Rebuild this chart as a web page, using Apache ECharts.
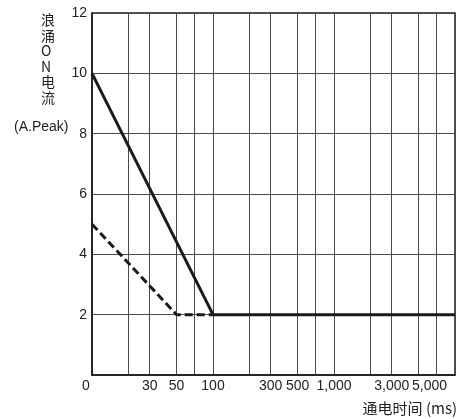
<!DOCTYPE html>
<html>
<head>
<meta charset="utf-8">
<script src="https://cdn.jsdelivr.net/npm/echarts@6/dist/echarts.min.js"></script>
<style>html,body{margin:0;padding:0;background:#fff;}#c{width:459px;height:419px;}</style>
</head>
<body>
<div id="c"></div>
<script>
// Data (x in ms on a log scale; left edge 10 ms is labelled "0")
const solidSeries = [[10, 10], [100, 2], [10000, 2]];
const dashedSeries = [[10, 5], [50, 2], [100, 2]];
const xGridValues = [10, 20, 30, 50, 70, 100, 200, 300, 500, 700, 1000, 2000, 3000, 5000, 7000, 10000];
const xLabelValues = [10, 30, 50, 100, 300, 500, 1000, 3000, 5000];
const xLabelTexts = ['0', '30', '50', '100', '300', '500', '1,000', '3,000', '5,000'];
const yTicks = [0, 2, 4, 6, 8, 10, 12];
const yNameChars = ['浪', '涌', 'O', 'N', '电', '流'];

const FONT = '"Liberation Sans", Arial, "Noto Sans CJK SC", sans-serif';
const chart = echarts.init(document.getElementById('c'), null, {renderer: 'canvas'});

const graphics = yNameChars.map((ch, i) => ({
  type: 'text', left: 41, top: 13 + i * 15.5,
  style: {text: ch, font: '14px "Noto Sans CJK SC", "Liberation Sans", sans-serif', fill: '#222'}
}));
graphics.push({type: 'text', left: 14, top: 120, style: {text: '(A.Peak)', font: '14px ' + FONT, fill: '#222'}});
graphics.push({type: 'text', right: 2, top: 401, style: {text: '通电时间 (ms)', font: '15px "Noto Sans CJK SC", "Liberation Sans", sans-serif', fill: '#222'}});

chart.setOption({
  animation: false,
  backgroundColor: '#fff',
  grid: {left: 92, right: 4, top: 13, bottom: 44, show: true, borderColor: '#1a1a1a', borderWidth: 1.5},
  xAxis: {
    type: 'log', logBase: 10, min: 10, max: 10000,
    axisLine: {show: true, lineStyle: {color: '#1a1a1a', width: 1.5}},
    axisTick: {show: false, customValues: xGridValues},
    axisLabel: {
      customValues: xLabelValues, margin: 4, color: '#222', fontSize: 14, fontFamily: FONT,
      hideOverlap: false, interval: 0, showMinLabel: true, showMaxLabel: true,
      formatter: (v) => {
        const i = xLabelValues.findIndex(x => Math.abs(x - v) < 1e-6);
        const t = i >= 0 ? xLabelTexts[i] : '';
        if (t === '0') return '{z|0}';
        if (t === '5,000') return '{f|5,000}';
        return t;
      },
      rich: {
        z: {fontSize: 14, fontFamily: FONT, color: '#222', padding: [0, 12, 0, 0]},
        f: {fontSize: 14, fontFamily: FONT, color: '#222', padding: [0, 0, 0, 22]}
      }
    },
    splitLine: {show: true, lineStyle: {color: '#4a4a4a', width: 1}},
    minorSplitLine: {show: false}
  },
  yAxis: {
    type: 'value', min: 0, max: 12, interval: 2,
    axisLine: {show: true, lineStyle: {color: '#1a1a1a', width: 1.5}},
    axisTick: {show: false},
    axisLabel: {
      margin: 5, color: '#222', fontSize: 14, fontFamily: FONT,
      formatter: (v) => (v === yTicks[0] ? '' : String(v))
    },
    splitLine: {show: true, lineStyle: {color: '#4a4a4a', width: 1}}
  },
  graphic: graphics,
  series: [
    {type: 'line', data: dashedSeries, symbol: 'none', z: 3,
     lineStyle: {color: '#1a1a1a', width: 3, type: [8, 4]}},
    {type: 'line', data: solidSeries, symbol: 'none', z: 4,
     lineStyle: {color: '#1a1a1a', width: 3}}
  ]
});
</script>
</body>
</html>
